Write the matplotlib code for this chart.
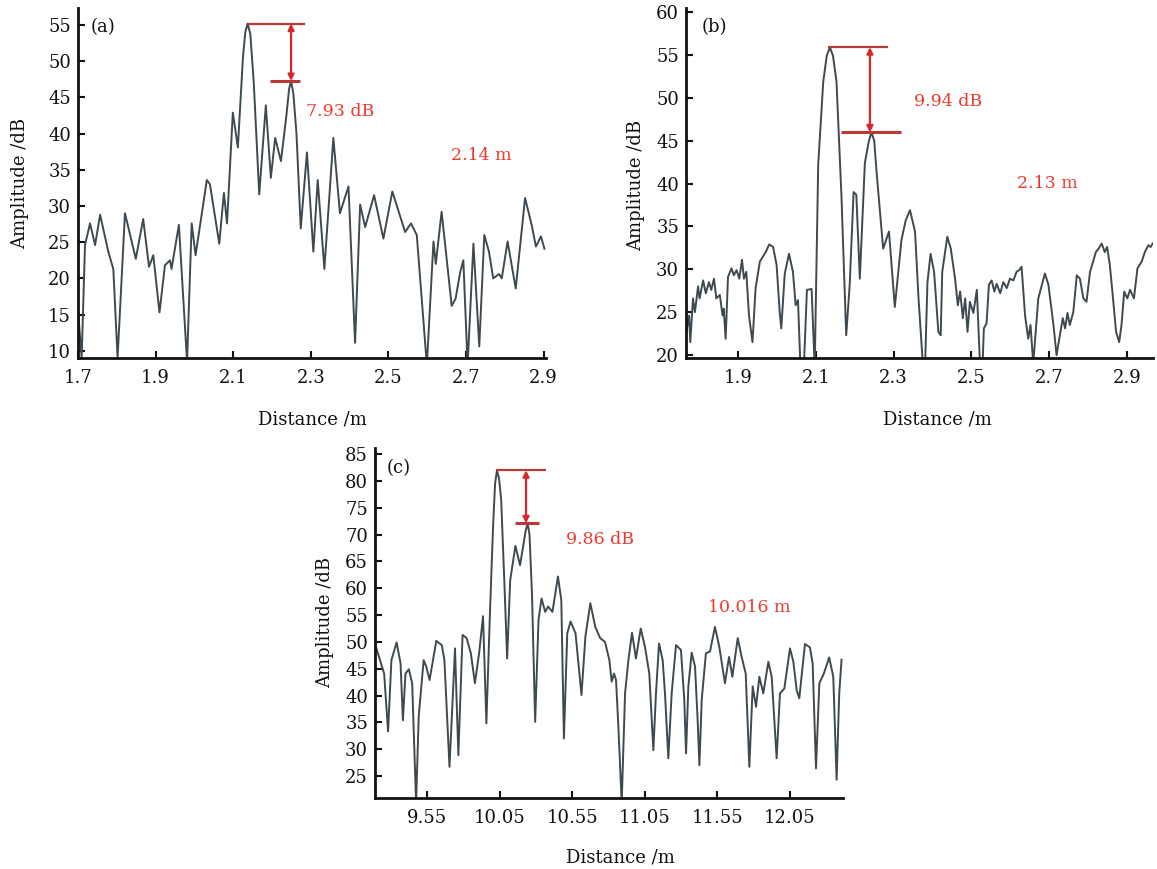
import matplotlib
matplotlib.use("Agg")
import matplotlib.pyplot as plt
from matplotlib.ticker import FixedLocator, FixedFormatter

plt.rcParams['font.family'] = ['DejaVu Serif']

# ---------------- data ----------------
# panel (a)
xa = [1.7009, 1.7094, 1.718, 1.731, 1.744, 1.757, 1.778, 1.791, 1.802, 1.821, 1.849, 1.868,
      1.883, 1.894, 1.910, 1.924, 1.937, 1.941, 1.960, 1.981, 1.993, 2.003, 2.032, 2.040,
      2.064, 2.076, 2.084, 2.099, 2.112, 2.125, 2.131, 2.137, 2.144, 2.153, 2.167, 2.184,
      2.197, 2.208, 2.223, 2.237, 2.244, 2.249, 2.255, 2.263,
      2.274, 2.290, 2.3065, 2.3177, 2.3349, 2.358, 2.375, 2.397, 2.414, 2.427, 2.440, 2.463,
      2.487, 2.510, 2.543, 2.558, 2.573, 2.599, 2.616, 2.622, 2.637, 2.663, 2.673, 2.685,
      2.693, 2.704, 2.719, 2.734, 2.747, 2.759, 2.770, 2.785, 2.792, 2.807, 2.828, 2.852,
      2.869, 2.880, 2.893, 2.902]
ya = [15.0, 9.0, 24.6, 27.6, 24.6, 28.8, 23.7, 21.3, 9.0, 29.0, 22.7, 28.2,
      21.6, 23.2, 15.3, 21.8, 22.5, 21.3, 27.4, 8.5, 27.6, 23.2, 33.6, 33.0,
      24.8, 31.8, 27.6, 42.9, 38.1, 50.5, 54.0, 55.2, 53.8, 47.0, 31.6, 43.9,
      33.9, 39.4, 36.2, 42.5, 46.2, 47.27, 45.5, 40.0,
      26.9, 37.4, 23.7, 33.6, 21.3, 39.4, 29.0, 32.7, 11.1, 30.2, 27.1, 31.5,
      25.5, 32.0, 26.4, 27.6, 26.0, 8.0, 25.1, 22.0, 29.2, 16.2, 17.2, 20.9,
      22.5, 8.0, 24.8, 10.6, 26.0, 23.7, 20.0, 20.6, 20.0, 25.1, 18.6, 31.1,
      27.4, 24.4, 25.8, 24.1]

# panel (b)
xb = [1.767, 1.774, 1.777, 1.784, 1.789, 1.797, 1.801, 1.810, 1.817, 1.825, 1.831, 1.838,
      1.844, 1.853, 1.860, 1.863, 1.868, 1.874, 1.883, 1.889, 1.896, 1.903, 1.910, 1.915,
      1.921, 1.928, 1.937, 1.945, 1.956, 1.964, 1.971, 1.980, 1.990, 1.999, 2.007, 2.011,
      2.020, 2.031, 2.041, 2.048, 2.054, 2.060, 2.069, 2.077, 2.089, 2.097, 2.106, 2.119,
      2.128, 2.136, 2.144, 2.153, 2.166, 2.178, 2.187, 2.197, 2.204, 2.213, 2.226, 2.236,
      2.243, 2.250, 2.256, 2.273,
      2.288, 2.303, 2.320, 2.331, 2.342, 2.355, 2.364, 2.375, 2.381, 2.387, 2.395, 2.404,
      2.415, 2.421, 2.425, 2.438, 2.447, 2.458, 2.465, 2.471, 2.478, 2.484, 2.490, 2.496,
      2.505, 2.514, 2.522, 2.529, 2.532, 2.539, 2.545, 2.552, 2.559, 2.565, 2.574, 2.582,
      2.591, 2.599, 2.608, 2.616, 2.623, 2.629, 2.638, 2.646, 2.652, 2.659, 2.672, 2.682,
      2.689, 2.698, 2.711, 2.719, 2.726, 2.735, 2.741, 2.747, 2.753, 2.762, 2.771, 2.779,
      2.788, 2.796, 2.805, 2.813, 2.820, 2.827, 2.835, 2.843, 2.849, 2.856, 2.865, 2.872,
      2.880, 2.886, 2.893, 2.901, 2.908, 2.918, 2.927, 2.938, 2.946, 2.955, 2.961, 2.966]
yb = [22.7, 24.6, 21.5, 26.6, 25.0, 28.0, 26.6, 28.7, 27.2, 28.5, 27.6, 28.9,
      26.6, 27.0, 24.6, 25.4, 21.9, 29.1, 30.1, 29.3, 29.9, 28.9, 31.1, 28.9,
      29.7, 24.6, 21.5, 27.8, 30.9, 31.5, 32.0, 32.9, 32.6, 30.5, 25.0, 23.1,
      29.5, 31.8, 29.7, 25.8, 26.4, 19.0, 18.5, 27.6, 27.7, 18.5, 42.2, 51.9,
      54.9, 55.9, 54.9, 51.9, 38.3, 22.3, 28.2, 39.0, 38.7, 28.9, 42.4, 44.9,
      45.96, 45.0, 41.4, 32.4,
      34.4, 25.6, 33.4, 35.7, 36.9, 34.4, 26.6, 19.0, 19.0, 28.5, 31.8, 29.7,
      22.7, 22.3, 29.7, 33.8, 32.4, 28.9, 25.8, 27.4, 24.3, 26.6, 22.7, 26.2,
      24.9, 27.6, 19.0, 19.2, 23.1, 23.7, 28.2, 28.7, 27.4, 28.3, 27.2, 28.5,
      27.8, 28.9, 28.7, 29.7, 29.9, 30.3, 24.6, 21.9, 23.5, 19.0, 26.6, 28.3,
      29.5, 28.2, 23.5, 19.97, 21.9, 24.3, 23.1, 24.9, 23.5, 25.0, 29.3, 28.9,
      26.6, 26.2, 29.7, 30.9, 32.0, 32.4, 33.0, 32.0, 32.6, 30.5, 26.2, 22.7,
      21.5, 23.5, 27.4, 26.6, 27.6, 26.6, 30.1, 30.9, 32.0, 32.8, 32.6, 33.0]

# panel (c)
xc = [9.198, 9.255, 9.282, 9.305, 9.341, 9.368, 9.384, 9.402, 9.425, 9.448, 9.475, 9.493,
      9.527, 9.545, 9.568, 9.614, 9.652, 9.670, 9.705, 9.743, 9.766, 9.795, 9.823, 9.852,
      9.880, 9.909, 9.936, 9.959, 9.982, 10.005, 10.019, 10.032, 10.046, 10.061, 10.084,
      10.102, 10.123,
      10.159, 10.191, 10.230, 10.243, 10.256, 10.273, 10.295, 10.318, 10.339, 10.364, 10.384,
      10.414, 10.452, 10.475, 10.493, 10.516, 10.539, 10.573, 10.614, 10.641, 10.675, 10.709,
      10.743, 10.776, 10.806, 10.822, 10.838, 10.852, 10.868, 10.891, 10.914, 10.937,
      10.962, 10.989, 11.022, 11.051, 11.081, 11.109, 11.127, 11.148, 11.173, 11.189,
      11.212, 11.235, 11.265, 11.299, 11.322, 11.334, 11.350, 11.373, 11.396, 11.414,
      11.426, 11.442, 11.471, 11.499, 11.533, 11.563, 11.602, 11.630, 11.653, 11.690,
      11.717, 11.745, 11.770, 11.793, 11.816, 11.839, 11.866, 11.901, 11.924, 11.958,
      11.981, 12.011, 12.050, 12.073, 12.096, 12.114, 12.153, 12.187, 12.206, 12.229,
      12.252, 12.283, 12.320, 12.348, 12.371, 12.389, 12.405]
yc = [49.1, 44.1, 33.3, 46.6, 49.9, 46.0, 35.4, 44.1, 44.9, 42.3, 20.0, 36.1,
      46.6, 45.4, 42.9, 50.2, 49.4, 46.6, 26.7, 48.8, 28.9, 51.3, 50.7, 47.9,
      42.3, 47.9, 54.8, 34.8, 54.1, 71.5, 79.5, 82.0, 80.5, 76.5, 60.3,
      46.9, 61.5,
      67.9, 64.3, 70.8, 72.1, 70.0, 59.1, 35.1, 54.1, 58.1, 55.6, 56.6,
      55.6, 62.2, 57.8, 32.0, 51.6, 53.8, 51.6, 40.1, 51.0, 57.2, 52.8,
      50.7, 50.0, 46.6, 42.6, 44.1, 42.9, 34.2, 20.0, 40.4, 46.6,
      51.7, 46.9, 52.5, 49.1, 44.1, 29.8, 40.4, 49.7, 46.6, 40.4,
      28.3, 40.4, 49.4, 48.5, 39.2, 29.2, 41.7, 48.0, 45.4, 35.4,
      27.0, 39.2, 47.9, 48.2, 52.8, 49.1, 42.3, 47.2, 43.5, 50.7,
      47.2, 44.1, 26.7, 41.7, 37.9, 43.5, 40.4, 46.3, 43.5, 28.3,
      40.4, 41.3, 48.8, 46.3, 41.0, 39.5, 49.6, 49.0, 46.0, 26.4,
      42.3, 44.1, 47.1, 43.5, 24.3, 40.4, 46.7]

xticks_a = [1.7, 1.9, 2.1, 2.3, 2.5, 2.7, 2.9]
xtick_labels_a = ["1.7", "1.9", "2.1", "2.3", "2.5", "2.7", "2.9"]
yticks_a = [10, 15, 20, 25, 30, 35, 40, 45, 50, 55]
xticks_b = [1.9, 2.1, 2.3, 2.5, 2.7, 2.9]
xtick_labels_b = ["1.9", "2.1", "2.3", "2.5", "2.7", "2.9"]
yticks_b = [20, 25, 30, 35, 40, 45, 50, 55, 60]
xticks_c = [9.55, 10.05, 10.55, 11.05, 11.55, 12.05]
xtick_labels_c = ["9.55", "10.05", "10.55", "11.05", "11.55", "12.05"]
yticks_c = [25, 30, 35, 40, 45, 50, 55, 60, 65, 70, 75, 80, 85]

# annotation values (peak, second peak, labels)
ann_a = dict(top=55.2, bot=47.27, top_x=(2.138, 2.285), bot_x=(2.195, 2.272), arrow_x=2.249,
             db="7.93 dB", dist="2.14 m")
ann_b = dict(top=55.9, bot=45.96, top_x=(2.131, 2.286), bot_x=(2.165, 2.319), arrow_x=2.239,
             db="9.94 dB", dist="2.13 m")
ann_c = dict(top=82.0, bot=72.1, top_x=(10.025, 10.370), bot_x=(10.156, 10.321), arrow_x=10.232,
             db="9.86 dB", dist="10.016 m")

# ---------------- figure ----------------
W, H = 1157, 869
fig = plt.figure(figsize=(W / 100, H / 100), dpi=100)

LINE_C = '#3e4a50'
RED_TXT = '#ee3a2e'
RED_LINE = '#b83a36'
RED_ARR = '#d8262a'
TXT_C = '#111111'


def rect(l, t, r, b):
    return [l / W, 1 - b / H, (r - l) / W, (b - t) / H]


def ftext(x, y, s, **kw):
    fig.text(x / W, 1 - y / H, s, **kw)


def make_ax(r, x, y, xlim, ylim, xt, xtl, yt, ann, tag, tagpos, dbpos, distpos):
    ax = fig.add_axes(rect(*r))
    ax.plot(x, y, color=LINE_C, lw=1.4)
    ax.set_xlim(*xlim)
    ax.set_ylim(*ylim)
    ax.xaxis.set_major_locator(FixedLocator(xt))
    ax.xaxis.set_major_formatter(FixedFormatter(xtl))
    ax.yaxis.set_major_locator(FixedLocator(yt))
    for s in ['top', 'right']:
        ax.spines[s].set_visible(False)
    for s in ['left', 'bottom']:
        ax.spines[s].set_linewidth(2.0)
        ax.spines[s].set_color(TXT_C)
    ax.tick_params(direction='in', length=5, width=1.5, labelsize=13, colors=TXT_C)
    ax.tick_params(axis='x', pad=8)
    ax.tick_params(axis='y', pad=5)
    # annotation
    ax.plot(ann['top_x'], [ann['top'], ann['top']], color=RED_LINE, lw=1.6, solid_capstyle='butt')
    ax.plot(ann['bot_x'], [ann['bot'], ann['bot']], color=RED_LINE, lw=2.2, solid_capstyle='butt')
    ax.annotate('', xy=(ann['arrow_x'], ann['bot']), xytext=(ann['arrow_x'], ann['top']),
                arrowprops=dict(arrowstyle='<|-|>', color=RED_ARR, lw=1.6,
                                mutation_scale=9, shrinkA=0, shrinkB=0))
    ftext(tagpos[0], tagpos[1], tag, fontsize=13, va='center', ha='left', color=TXT_C)
    ftext(dbpos[0], dbpos[1], ann['db'], fontsize=12.5, va='center', ha='left', color=RED_TXT)
    ftext(distpos[0], distpos[1], ann['dist'], fontsize=12.5, va='center', ha='left', color=RED_TXT)
    return ax


make_ax((78, 8, 546, 358), xa, ya, (1.7, 2.906), (9.0, 57.36),
        xticks_a, xtick_labels_a, yticks_a, ann_a, '(a)', (91, 27), (306, 112), (451, 155))
make_ax((686, 8, 1153, 358), xb, yb, (1.766, 2.967), (19.65, 60.47),
        xticks_b, xtick_labels_b, yticks_b, ann_b, '(b)', (702, 27), (914, 102), (1017, 183))
make_ax((375, 448, 843, 798), xc, yc, (9.192, 12.415), (20.9, 86.15),
        xticks_c, xtick_labels_c, yticks_c, ann_c, '(c)', (387, 468), (566, 540), (708, 607))

# axis labels
lab_kw = dict(fontsize=13, ha='center', va='center', color=TXT_C)
ftext(20, 183, 'Amplitude /dB', rotation=90, **lab_kw)
ftext(636, 185, 'Amplitude /dB', rotation=90, **lab_kw)
ftext(325, 622, 'Amplitude /dB', rotation=90, **lab_kw)
ftext(312, 420, 'Distance /m', **lab_kw)
ftext(937, 420, 'Distance /m', **lab_kw)
ftext(620, 857, 'Distance /m', **lab_kw)

fig.savefig('out.png', dpi=100)
